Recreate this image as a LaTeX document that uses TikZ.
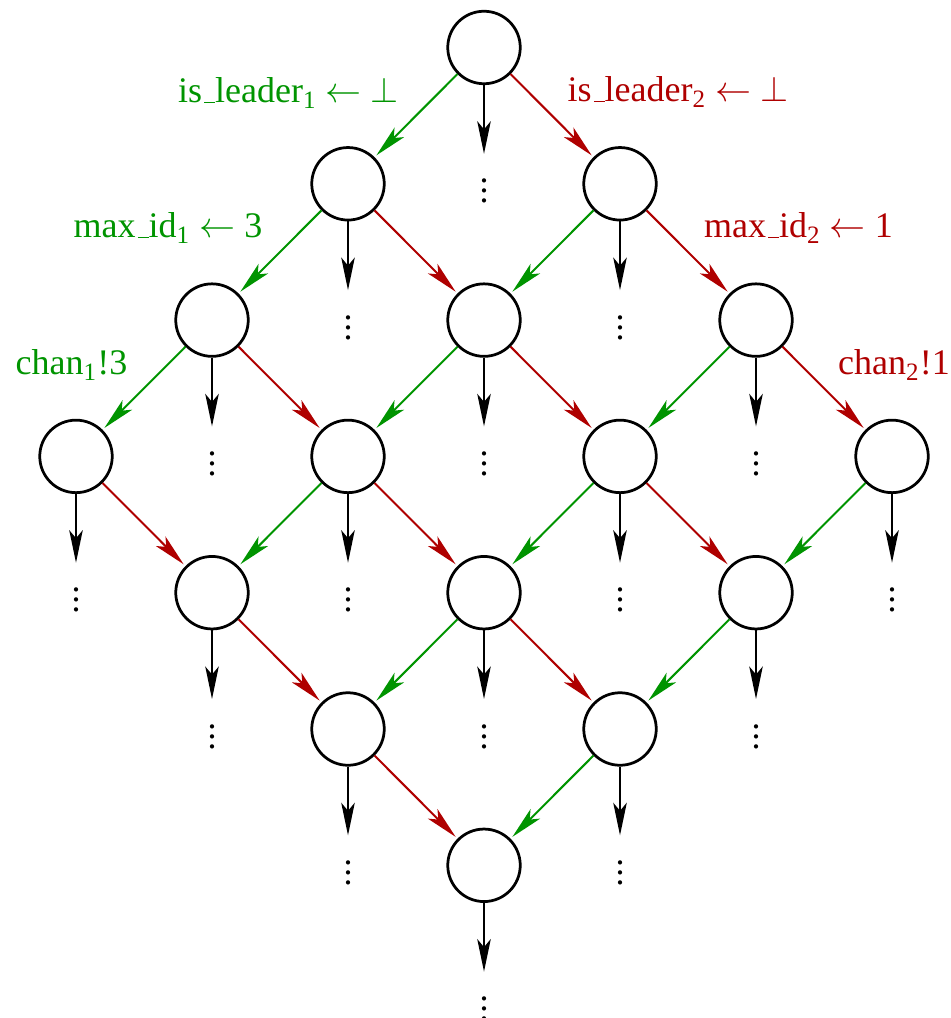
\documentclass[tikz,border=0pt]{standalone}
\usepackage{fontspec}
\setmainfont{Liberation Serif}
\usetikzlibrary{arrows.meta}
\definecolor{mygreen}{RGB}{0,148,0}
\definecolor{myred}{RGB}{175,0,0}
\newcommand\lowbar{\leavevmode\kern.06em\vbox{\hrule height 0.5pt width.3em}}
\tikzset{
  state/.style={circle, draw=black, line width=1.1pt, minimum size=29pt, inner sep=0pt},
  dotsnode/.style={inner sep=0pt, minimum height=23.6pt, minimum width=6pt},
  tipstyle/.style={-{Stealth[length=13pt,width=5.4pt,inset=3.2pt]}},
  down/.style={tipstyle, line width=0.9pt, draw=black},
  grnarrow/.style={tipstyle, line width=0.8pt, draw=mygreen, fill=mygreen, shorten >=1pt},
  redarrow/.style={tipstyle, line width=0.8pt, draw=myred, fill=myred, shorten >=1pt},
  lbl/.style={inner sep=0pt, anchor=base}
}
\begin{document}
\begin{tikzpicture}[x=0.4pt, y=-0.4pt, font=\fontsize{14.4}{17}\selectfont]
\useasboundingbox (0,0) rectangle (951,1018);
\foreach \a in {0,...,3} {
  \foreach \b in {0,...,3} {
    \node[state] (n\a\b) at ({484+136*(\b-\a)},{47.5+136.3*(\a+\b)}) {};
    \node[dotsnode] (d\a\b) at ({484+136*(\b-\a)},{47.5+136.3*(\a+\b+1)}) {\vdots};
    \draw[down] (n\a\b) -- (d\a\b);
  }
}
\foreach \a in {0,1,2} {
  \foreach \b in {0,...,3} {
    \pgfmathtruncatemacro\nxt{\a+1}
    \draw[grnarrow] (n\a\b) -- (n\nxt\b);
  }
}
\foreach \a in {0,...,3} {
  \foreach \b in {0,1,2} {
    \pgfmathtruncatemacro\nxt{\b+1}
    \draw[redarrow] (n\a\b) -- (n\a\nxt);
  }
}
\node[lbl, text=mygreen] (l1) at (288.5,103) {is\lowbar leader\textsubscript{1} $\leftarrow$ $\perp$};
\node[lbl, text=myred] (l2) at (678,102) {is\lowbar leader\textsubscript{2} $\leftarrow$ $\perp$};
\node[lbl, text=mygreen] (l3) at (168,238) {max\lowbar id\textsubscript{1} $\leftarrow$ 3};
\node[lbl, text=myred] (l4) at (798.5,238) {max\lowbar id\textsubscript{2} $\leftarrow$ 1};
\node[lbl, text=mygreen] (l5) at (71.5,375) {chan\textsubscript{1}!3};
\node[lbl, text=myred] (l6) at (894,375) {chan\textsubscript{2}!1};
\end{tikzpicture}
\end{document}
